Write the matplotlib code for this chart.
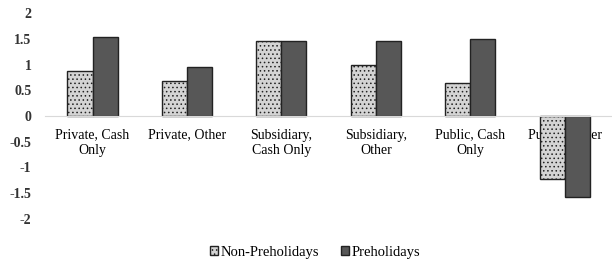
import numpy as np
import matplotlib.pyplot as plt

plt.rcParams["font.family"] = ["Liberation Serif", "DejaVu Serif"]
plt.rcParams["axes.unicode_minus"] = False
plt.rcParams["hatch.color"] = "#7a7a7a"
plt.rcParams["hatch.linewidth"] = 0.6

categories = ["Private, Cash\nOnly", "Private, Other", "Subsidiary,\nCash Only",
              "Subsidiary,\nOther", "Public, Cash\nOnly", "Public, Other"]
non_preholidays = [0.88, 0.69, 1.46, 1.00, 0.65, -1.23]
preholidays = [1.54, 0.96, 1.46, 1.46, 1.50, -1.58]
yticks = [-2, -1.5, -1, -0.5, 0, 0.5, 1, 1.5, 2]

fig = plt.figure(figsize=(6.12, 2.67), dpi=100)
ax = fig.add_axes([0.074, 0.18, 0.926, 0.771])

x = np.arange(len(categories))
w = 0.265
ax.bar(x - w / 2, non_preholidays, w, color="#d4d4d4", edgecolor="#222222",
       linewidth=1.0, hatch="....", label="Non-Preholidays")
ax.bar(x + w / 2, preholidays, w, color="#575757", edgecolor="#222222",
       linewidth=1.0, label="Preholidays")

ax.set_xlim(-0.5, len(categories) - 0.5)
ax.set_ylim(-2, 2)
ax.set_yticks(yticks)
ax.set_yticklabels([("%g" % v) for v in yticks], fontsize=10,
                   fontweight="bold", color="#333333")
ax.set_xticks(x)
ax.set_xticklabels(categories, fontsize=10.3, color="#332f4a", linespacing=1.35)
ax.set_axisbelow(True)

for s in ["left", "right", "top"]:
    ax.spines[s].set_visible(False)
ax.spines["bottom"].set_position(("data", 0))
ax.spines["bottom"].set_color("#d9d9d9")
ax.tick_params(axis="both", length=0)
ax.tick_params(axis="x", pad=9)
ax.tick_params(axis="y", pad=10)

fig.legend(loc="center", bbox_to_anchor=(0.515, 0.056), ncol=2, frameon=False,
           prop={"size": 10.5}, handlelength=0.55,
           handleheight=0.55, handletextpad=0.2, columnspacing=1.5)

fig.savefig("out.png", dpi=100)
